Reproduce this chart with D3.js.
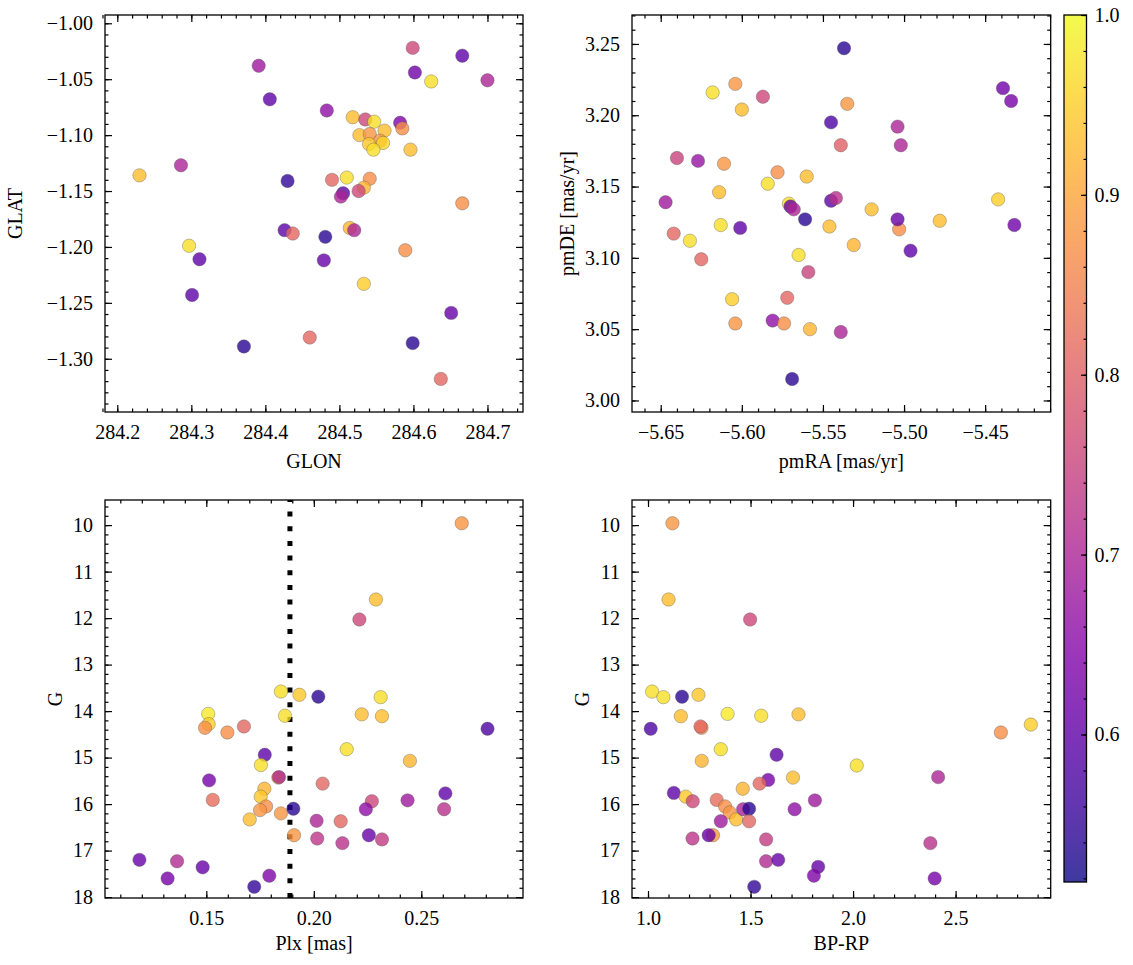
<!DOCTYPE html>
<html><head><meta charset="utf-8">
<script src="https://cdn.jsdelivr.net/npm/d3@7"></script>
<style>
body{margin:0;background:#fff}
svg{display:block}
text{font-family:"Liberation Serif","Times New Roman",serif;fill:#000}
</style>
</head><body>
<svg id="c" width="1133" height="965"></svg>
<script>
// ---------------- DATA ----------------
// Panel 1: GLON / GLAT
const glon = [284.599,284.666,284.391,284.602,284.624,284.700,284.406,284.483,284.518,284.535,284.547,284.582,284.585,284.561,284.527,284.541,284.555,284.540,284.559,284.546,284.596,284.230,284.286,284.430,284.490,284.510,284.541,284.533,284.505,284.502,284.526,284.666,284.426,284.437,284.481,284.514,284.520,284.297,284.311,284.479,284.589,284.533,284.301,284.651,284.460,284.371,284.599,284.637];
const glat = [-1.022,-1.029,-1.038,-1.044,-1.052,-1.051,-1.068,-1.078,-1.084,-1.086,-1.088,-1.089,-1.094,-1.096,-1.100,-1.099,-1.105,-1.108,-1.107,-1.113,-1.113,-1.136,-1.127,-1.141,-1.140,-1.138,-1.139,-1.147,-1.152,-1.155,-1.150,-1.161,-1.185,-1.188,-1.191,-1.183,-1.185,-1.199,-1.211,-1.212,-1.203,-1.233,-1.243,-1.259,-1.281,-1.289,-1.286,-1.318];
const probPos = [0.76,0.60,0.68,0.62,0.97,0.70,0.60,0.66,0.93,0.76,0.97,0.64,0.87,0.93,0.93,0.88,0.88,0.94,0.96,0.97,0.93,0.93,0.70,0.55,0.81,0.97,0.87,0.92,0.60,0.70,0.76,0.87,0.60,0.81,0.54,0.92,0.70,0.97,0.60,0.61,0.87,0.95,0.60,0.61,0.81,0.54,0.54,0.81];

// Panel 2: pmRA / pmDE
const pmra = [-5.537,-5.618,-5.604,-5.587,-5.600,-5.535,-5.439,-5.434,-5.545,-5.504,-5.502,-5.539,-5.640,-5.627,-5.611,-5.578,-5.584,-5.560,-5.614,-5.647,-5.571,-5.570,-5.568,-5.545,-5.542,-5.442,-5.520,-5.561,-5.503,-5.504,-5.478,-5.613,-5.601,-5.546,-5.432,-5.642,-5.632,-5.531,-5.496,-5.625,-5.565,-5.559,-5.606,-5.572,-5.604,-5.581,-5.574,-5.558,-5.539,-5.569];
const pmde = [3.247,3.216,3.222,3.213,3.204,3.208,3.219,3.210,3.195,3.192,3.179,3.179,3.170,3.168,3.166,3.160,3.152,3.157,3.146,3.139,3.138,3.136,3.134,3.140,3.142,3.141,3.134,3.127,3.120,3.127,3.126,3.123,3.121,3.122,3.123,3.117,3.112,3.109,3.105,3.099,3.102,3.090,3.071,3.072,3.054,3.056,3.054,3.050,3.048,3.015];
const probPm = [0.54,0.97,0.88,0.76,0.93,0.88,0.62,0.63,0.58,0.70,0.70,0.80,0.75,0.67,0.88,0.87,0.97,0.93,0.93,0.68,0.97,0.61,0.70,0.60,0.72,0.95,0.93,0.54,0.87,0.61,0.93,0.97,0.60,0.93,0.62,0.81,0.97,0.92,0.60,0.81,0.97,0.75,0.95,0.81,0.88,0.66,0.87,0.92,0.70,0.54];

// Panel 3: Plx / G
const plx = [0.2688,0.2289,0.2212,0.1847,0.1933,0.2021,0.2311,0.1509,0.1511,0.1494,0.1598,0.1675,0.1866,0.2223,0.2317,0.2808,0.2153,0.2447,0.1772,0.1754,0.1835,0.1838,0.1513,0.2041,0.1770,0.1753,0.1530,0.1778,0.1750,0.1847,0.1702,0.1905,0.1908,0.2013,0.2125,0.2016,0.2133,0.2270,0.2242,0.2436,0.2612,0.2606,0.2256,0.2317,0.1189,0.1364,0.1483,0.1320,0.1793,0.1723];
const gPlx = [9.96,11.60,12.03,13.58,13.65,13.69,13.70,14.06,14.28,14.36,14.46,14.33,14.10,14.07,14.11,14.38,14.82,15.07,14.94,15.16,15.43,15.42,15.49,15.56,15.67,15.84,15.91,16.05,16.13,16.20,16.33,16.10,16.67,16.36,16.37,16.74,16.84,15.94,16.11,15.92,15.77,16.11,16.67,16.76,17.20,17.23,17.36,17.60,17.54,17.78];
const probPlx = [0.88,0.93,0.76,0.97,0.94,0.54,0.97,0.98,0.95,0.87,0.87,0.81,0.97,0.93,0.93,0.58,0.97,0.92,0.60,0.97,0.93,0.70,0.63,0.81,0.92,0.94,0.82,0.87,0.88,0.88,0.93,0.54,0.88,0.70,0.81,0.73,0.72,0.76,0.66,0.68,0.60,0.72,0.61,0.74,0.61,0.71,0.61,0.63,0.64,0.55];
const plxCut = 0.1889;

// Panel 4: BP-RP / G
const bprp = [1.119,1.100,1.498,1.020,1.075,1.166,1.246,1.013,1.160,1.388,1.552,1.734,1.261,1.256,1.355,1.262,1.627,2.018,2.415,1.586,1.544,1.707,1.462,1.126,1.184,1.218,1.335,1.376,1.399,1.430,1.464,1.493,1.493,1.355,1.715,1.814,1.217,1.317,1.296,1.576,1.576,1.635,1.830,1.809,1.518,2.377,2.398,2.721,2.867];
const gCol = [9.96,11.60,12.03,13.58,13.70,13.69,13.65,14.38,14.11,14.06,14.10,14.07,14.36,14.33,14.82,15.07,14.94,15.17,15.42,15.48,15.56,15.43,15.67,15.76,15.84,15.94,15.91,16.05,16.18,16.33,16.11,16.10,16.37,16.37,16.11,15.92,16.74,16.67,16.67,16.76,17.23,17.20,17.35,17.54,17.78,16.84,17.60,14.46,14.29];
const probCol = [0.88,0.93,0.76,0.97,0.97,0.54,0.94,0.58,0.93,0.98,0.97,0.93,0.87,0.81,0.97,0.92,0.60,0.97,0.70,0.63,0.81,0.93,0.92,0.60,0.94,0.76,0.82,0.87,0.88,0.93,0.70,0.54,0.81,0.68,0.66,0.68,0.73,0.88,0.61,0.74,0.71,0.61,0.61,0.64,0.55,0.72,0.63,0.87,0.95];

// Colorbar
const cbTicks = [0.6,0.7,0.8,0.9,1.0];
const VMIN = 0.518, VMAX = 1.0;

// ---------------- DRAWING ----------------
const svg = d3.select("#c");
const FS = 20;
const color = p => d3.interpolatePlasma((p - VMIN) / (VMAX - VMIN));
const rng = (a, b, s) => { const n = Math.round((b - a) / s); return d3.range(n + 1).map(i => +(a + i * s).toFixed(6)); };

function panel(o) {
  const g = svg.append("g");
  const x = d3.scaleLinear().domain(o.xd).range([o.x0, o.x1]);
  const y = d3.scaleLinear().domain(o.yd).range([o.y1, o.y0]);
  const W = o.x1 - o.x0, H = o.y1 - o.y0;

  // clip
  const cid = "clip" + o.id;
  svg.append("clipPath").attr("id", cid).append("rect")
    .attr("x", o.x0).attr("y", o.y0).attr("width", W).attr("height", H);
  const plot = g.append("g").attr("clip-path", `url(#${cid})`);

  if (o.vline !== undefined) {
    plot.append("line")
      .attr("x1", x(o.vline)).attr("x2", x(o.vline))
      .attr("y1", o.y1).attr("y2", o.y0)
      .attr("stroke", "#000").attr("stroke-width", 5)
      .attr("stroke-dasharray", "5,9.67");
  }

  const pts = o.xs.map((v, i) => ({x: v, y: o.ys[i], p: o.ps[i]}));
  plot.selectAll("circle").data(pts).enter().append("circle")
    .attr("cx", d => x(d.x)).attr("cy", d => y(d.y)).attr("r", 6.7)
    .attr("fill", d => color(d.p)).attr("fill-opacity", 0.8)
    .attr("stroke", "#555").attr("stroke-opacity", 0.6).attr("stroke-width", 0.6);

  const majL = 7, minL = 3.5;
  const axes = [
    {ax: d3.axisBottom(x), tr: `translate(0,${o.y1})`, lab: true, maj: o.xmaj, min: o.xmin, fmt: o.xfmt},
    {ax: d3.axisTop(x), tr: `translate(0,${o.y0})`, lab: false, maj: o.xmaj, min: o.xmin},
    {ax: d3.axisLeft(y), tr: `translate(${o.x0},0)`, lab: true, maj: o.ymaj, min: o.ymin, fmt: o.yfmt},
    {ax: d3.axisRight(y), tr: `translate(${o.x1},0)`, lab: false, maj: o.ymaj, min: o.ymin}
  ];
  axes.forEach((a, k) => {
    const isX = k < 2;
    // minor
    const mg = g.append("g").attr("transform", a.tr)
      .call(a.ax.tickValues(a.min).tickSize(-minL).tickFormat(""));
    mg.select(".domain").remove();
    mg.selectAll("line").attr("stroke-width", 1.2);
    // major
    const ax2 = (k === 0 ? d3.axisBottom(x) : k === 1 ? d3.axisTop(x) : k === 2 ? d3.axisLeft(y) : d3.axisRight(y));
    ax2.tickValues(a.maj).tickSize(-majL).tickPadding(isX ? 13 : 12)
      .tickFormat(a.lab ? a.fmt : "");
    const Mg = g.append("g").attr("transform", a.tr).call(ax2);
    Mg.select(".domain").remove();
    Mg.selectAll("line").attr("stroke-width", 1.2);
    Mg.selectAll("text").style("font-family", '"Liberation Serif",serif').style("font-size", FS + "px").attr("fill", "#000");
  });

  g.append("rect").attr("x", o.x0).attr("y", o.y0).attr("width", W).attr("height", H)
    .attr("fill", "none").attr("stroke", "#000").attr("stroke-width", 1.3);

  g.append("text").attr("x", (o.x0 + o.x1) / 2).attr("y", o.xlabY)
    .attr("text-anchor", "middle").style("font-size", FS + "px").text(o.xlabel);
  g.append("text").attr("transform", `translate(${o.ylabX},${(o.y0 + o.y1) / 2}) rotate(-90)`)
    .attr("text-anchor", "middle").style("font-size", FS + "px").text(o.ylabel);
}

const f2 = d3.format(".2f"), f1 = d3.format(".1f"), f0 = d3.format("d");

panel({id: 1, x0: 105, x1: 523, y0: 15, y1: 412,
  xd: [284.1834, 284.748], yd: [-1.3476, -0.9926],
  xmaj: rng(284.2, 284.7, 0.1), xmin: rng(284.2, 284.74, 0.02).concat([284.18]),
  ymaj: rng(-1.30, -1.00, 0.05), ymin: rng(-1.34, -1.00, 0.01),
  xfmt: f1, yfmt: f2, xs: glon, ys: glat, ps: probPos,
  xlabel: "GLON", ylabel: "GLAT", xlabY: 468, ylabX: 22});

panel({id: 2, x0: 632, x1: 1050.7, y0: 15, y1: 412,
  xd: [-5.6677, -5.4096], yd: [2.9919, 3.2703],
  xmaj: rng(-5.65, -5.45, 0.05), xmin: rng(-5.66, -5.41, 0.01),
  ymaj: rng(3.00, 3.25, 0.05), ymin: rng(3.00, 3.27, 0.01),
  xfmt: f2, yfmt: f2, xs: pmra, ys: pmde, ps: probPm,
  xlabel: "pmRA [mas/yr]", ylabel: "pmDE [mas/yr]", xlabY: 468, ylabX: 574});

panel({id: 3, x0: 105, x1: 523, y0: 500, y1: 898,
  xd: [0.10288, 0.2973], yd: [18.02, 9.46],
  xmaj: [0.15, 0.20, 0.25], xmin: rng(0.11, 0.29, 0.01),
  ymaj: rng(10, 18, 1), ymin: rng(9.6, 18, 0.2),
  xfmt: f2, yfmt: f0, xs: plx, ys: gPlx, ps: probPlx, vline: plxCut,
  xlabel: "Plx [mas]", ylabel: "G", xlabY: 950, ylabX: 62});

panel({id: 4, x0: 632, x1: 1050.7, y0: 500, y1: 898,
  xd: [0.9219, 2.9639], yd: [18.02, 9.46],
  xmaj: [1.0, 1.5, 2.0, 2.5], xmin: rng(1.0, 2.9, 0.1),
  ymaj: rng(10, 18, 1), ymin: rng(9.6, 18, 0.2),
  xfmt: f1, yfmt: f0, xs: bprp, ys: gCol, ps: probCol,
  xlabel: "BP-RP", ylabel: "G", xlabY: 950, ylabX: 589});

// Colorbar
(function () {
  const cx0 = 1064, cx1 = 1086.5, cy0 = 15, cy1 = 882;
  const cs = d3.scaleLinear().domain([VMIN, VMAX]).range([cy1, cy0]);
  const defs = svg.append("defs");
  const grad = defs.append("linearGradient").attr("id", "cbg")
    .attr("x1", 0).attr("y1", 1).attr("x2", 0).attr("y2", 0);
  d3.range(0, 1.0001, 0.05).forEach(t => {
    grad.append("stop").attr("offset", t).attr("stop-color", d3.interpolatePlasma(t));
  });
  svg.append("rect").attr("x", cx0).attr("y", cy0).attr("width", cx1 - cx0).attr("height", cy1 - cy0)
    .attr("fill", "url(#cbg)").attr("fill-opacity", 0.8);
  const ag = svg.append("g").attr("transform", `translate(${cx1},0)`)
    .call(d3.axisRight(cs).tickValues(rng(0.52, 1.0, 0.02)).tickSize(-3).tickFormat(""));
  ag.select(".domain").remove();
  ag.selectAll("line").attr("stroke-width", 1.2);
  const bg = svg.append("g").attr("transform", `translate(${cx1},0)`)
    .call(d3.axisRight(cs).tickValues(cbTicks).tickSize(-5.5).tickPadding(8).tickFormat(f1));
  bg.select(".domain").remove();
  bg.selectAll("line").attr("stroke-width", 1.2);
  bg.selectAll("text").style("font-family", '"Liberation Serif",serif').style("font-size", FS + "px").attr("fill", "#000");
  svg.append("rect").attr("x", cx0).attr("y", cy0).attr("width", cx1 - cx0).attr("height", cy1 - cy0)
    .attr("fill", "none").attr("stroke", "#000").attr("stroke-width", 1.3);
})();
</script>
</body></html>
